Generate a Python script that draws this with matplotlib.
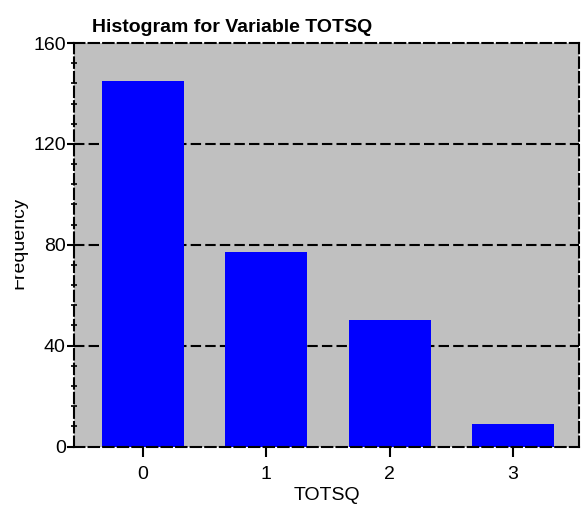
import numpy as np
import matplotlib
matplotlib.use("Agg")
from matplotlib import pyplot as plt
from matplotlib.transforms import Bbox

# data
categories = [0, 1, 2, 3]
counts = [145, 77, 50, 9]
yticks = [0, 40, 80, 120, 160]

plt.rcParams["font.family"] = ["Liberation Sans", "DejaVu Sans"]

W, H = 581, 508
fig = plt.figure(figsize=(W / 100, H / 100), dpi=100)
ax = fig.add_axes([74 / W, 1 - 446.5 / H, (579 - 74) / W, (446.5 - 43) / H])
ax.set_facecolor("#c0c0c0")

ax.bar(categories, counts, width=0.665, color="#0000ff", zorder=3)

ax.set_xlim(-0.559, 3.535)
ax.set_ylim(0, 160)
ax.set_xticks(categories)
ax.set_yticks(yticks)
ax.set_yticks(np.arange(0, 161, 8), minor=True)
ax.tick_params(axis="both", labelsize=14, color="black", width=1.5)
ax.tick_params(axis="x", length=7, direction="out", pad=7)
ax.tick_params(axis="y", which="major", length=5, direction="out", pad=1)
ax.tick_params(axis="y", which="minor", length=5, direction="inout", width=1.2)

# dashed gridlines and frame
for v in yticks[1:-1]:
    ax.axhline(v, color="black", linestyle=(0, (5, 2)), linewidth=1.5, zorder=2)
for s in ax.spines.values():
    s.set_linestyle((0, (5, 2)))
    s.set_linewidth(1.5)
    s.set_zorder(4)

ax.set_xlabel("TOTSQ", fontsize=14, labelpad=3)
fig.text(92 / W, 1 - 32 / H, "Histogram for Variable TOTSQ",
         fontsize=14, fontweight="bold", ha="left", va="baseline")

# y label is cut off on its left side in the reference
yl = fig.text(27 / W, 1 - 243 / H, "Frequency", fontsize=14, rotation=90,
              ha="right", va="center")
yl.set_clip_box(Bbox([[15, 0], [W, H]]))
yl.set_clip_on(True)

fig.savefig("out.png", dpi=100)
